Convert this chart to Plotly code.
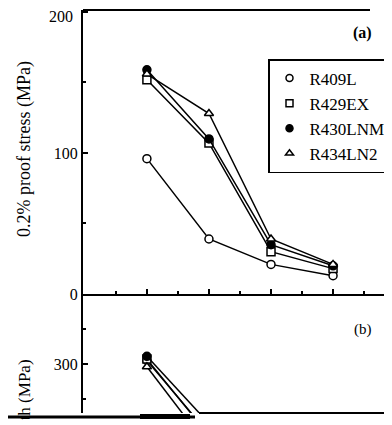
import plotly.graph_objects as go

# ---------------- data ----------------
temps = [400, 500, 600, 700]
series_names = ["R409L", "R429EX", "R430LNM", "R434LN2"]
proof_R409L = [96, 39, 21, 13]
proof_R429EX = [152, 107, 30, 18]
proof_R430LNM = [159, 110, 35, 20]
proof_R434LN2 = [156, 128, 39, 21]

tens_temps = [400, 500]
tens_R409L = [305, 200]
tens_R429EX = [307, 198]
tens_R430LNM = [311, 215]
tens_R434LN2 = [296, 180]

proof_ticks = [0, 100, 200]
proof_ticktext = ["0", "100", "200"]

proof = [proof_R409L, proof_R429EX, proof_R430LNM, proof_R434LN2]
tens = [tens_R409L, tens_R429EX, tens_R430LNM, tens_R434LN2]

# ---------------- styles ----------------
symbols = ["circle", "square", "circle", "triangle-up"]
fills = ["white", "white", "black", "white"]
FONT = "Liberation Serif"

# page has an 8px body margin; figure sized to fit the 392x425 window
OFF = 8
W, H = 392 - OFF, 425 - OFF
ML, MR, MT = 83 - OFF, 0, 10 - OFF
MB = H - (413 - OFF)
PW, PH = W - ML - MR, H - MT - MB


def px2x(px):  # page pixel -> paper x
    return (px - OFF - ML) / PW


def px2y(py):  # page pixel -> paper y
    return (H - MB - (py - OFF)) / PH


split = px2y(294)

fig = go.Figure()
for name, sym, fc, yv, tv in zip(series_names, symbols, fills, proof, tens):
    mk = dict(symbol=sym, size=8, color=fc, line=dict(color="black", width=1.5))
    fig.add_trace(go.Scatter(x=temps, y=yv, mode="lines+markers", name=name,
                             line=dict(color="black", width=1.5), marker=mk,
                             showlegend=False, xaxis="x", yaxis="y"))
    fig.add_trace(go.Scatter(x=tens_temps, y=tv, mode="lines+markers", name=name,
                             line=dict(color="black", width=1.5), marker=mk,
                             showlegend=False, xaxis="x2", yaxis="y2"))
for name, sym, fc in zip(series_names, symbols, fills):
    fig.add_trace(go.Scatter(x=[None], y=[None], mode="markers", name=name,
                             marker=dict(symbol=sym, size=7, color=fc,
                                         line=dict(color="black", width=1.5)),
                             xaxis="x", yaxis="y"))

axcommon = dict(showgrid=False, zeroline=False, showline=True, linecolor="black",
                linewidth=2, ticks="inside", tickcolor="black", tickwidth=1.5,
                ticklen=5, tickfont=dict(family=FONT, size=16, color="black"))

# top label is drawn separately (it sits just inside the top edge of the page)
shown_text = [t if v != max(proof_ticks) else "" for v, t in zip(proof_ticks, proof_ticktext)]

fig.update_layout(
    width=W, height=H,
    margin=dict(l=ML, r=MR, t=MT, b=MB, pad=0),
    paper_bgcolor="white", plot_bgcolor="white",
    font=dict(family=FONT, size=16, color="black"),
    xaxis=dict(domain=[0, 1], range=[297, 795], anchor="y", tickvals=temps,
               showticklabels=False,
               minor=dict(ticks="inside", ticklen=3, tickcolor="black",
                          tickvals=[350, 450, 550, 650, 750]),
               **axcommon),
    xaxis2=dict(domain=[0, 1], range=[297, 795], anchor="y2", matches="x",
                visible=False),
    yaxis=dict(domain=[split, 1], range=[0, 201.4], anchor="x",
               tickvals=proof_ticks, ticktext=shown_text,
               minor=dict(ticks="inside", ticklen=3, tickcolor="black",
                          tickvals=[50, 150]),
               **axcommon),
    yaxis2=dict(domain=[0, split], range=[230, 400], anchor="x2",
                tickvals=[300],
                minor=dict(ticks="inside", ticklen=3, tickcolor="black",
                           tickvals=[250, 350]),
                **axcommon),
    legend=dict(x=px2x(268), y=px2y(59), xanchor="left", yanchor="top",
                bordercolor="black", borderwidth=1.5, bgcolor="white",
                font=dict(family=FONT, size=17, color="black"),
                itemwidth=30, tracegroupgap=0),
    showlegend=True,
)

fig.add_annotation(text=proof_ticktext[-1], xref="paper", yref="paper",
                   x=px2x(75), y=px2y(16), xanchor="right", yanchor="middle",
                   showarrow=False, font=dict(family=FONT, size=16, color="black"))
fig.add_annotation(text="0.2% proof stress (MPa)", textangle=-90,
                   xref="paper", yref="paper", x=px2x(24), y=px2y(149),
                   xanchor="center", yanchor="middle", showarrow=False,
                   font=dict(family=FONT, size=18, color="black"))
fig.add_annotation(text="Tensile strength (MPa)", textangle=-90,
                   xref="paper", yref="paper", x=px2x(24), y=px2y(357),
                   xanchor="center", yanchor="top", showarrow=False,
                   font=dict(family=FONT, size=17, color="black"))
fig.add_annotation(text="<b>(a)</b>", xref="paper", yref="paper",
                   x=px2x(362), y=px2y(33), xanchor="center", yanchor="middle",
                   showarrow=False, font=dict(family=FONT, size=16, color="black"))
fig.add_annotation(text="(b)", xref="paper", yref="paper",
                   x=px2x(363), y=px2y(329), xanchor="center", yanchor="middle",
                   showarrow=False, font=dict(family=FONT, size=15, color="black"))
# white cover below the cut edge of the scan (hides the rest of the label)
fig.add_annotation(text=" ", xref="paper", yref="paper",
                   x=px2x(0), y=px2y(419), xanchor="left", yanchor="top",
                   width=80, height=10, bgcolor="white", borderpad=0,
                   showarrow=False)

# frame pieces
fig.add_shape(type="line", xref="paper", yref="paper", x0=0, x1=px2x(370),
              y0=1, y1=1, line=dict(color="black", width=2))
fig.add_shape(type="line", xref="paper", yref="paper", x0=px2x(0), x1=px2x(195),
              y0=px2y(417), y1=px2y(417), line=dict(color="black", width=3))
fig.add_shape(type="rect", xref="paper", yref="paper", x0=px2x(140), x1=px2x(190),
              y0=px2y(419), y1=px2y(414), line=dict(width=0), fillcolor="black")
fig.add_shape(type="line", xref="paper", yref="paper", x0=px2x(199), x1=px2x(392),
              y0=px2y(413), y1=px2y(413), line=dict(color="black", width=2))

fig.write_html("out.html")
